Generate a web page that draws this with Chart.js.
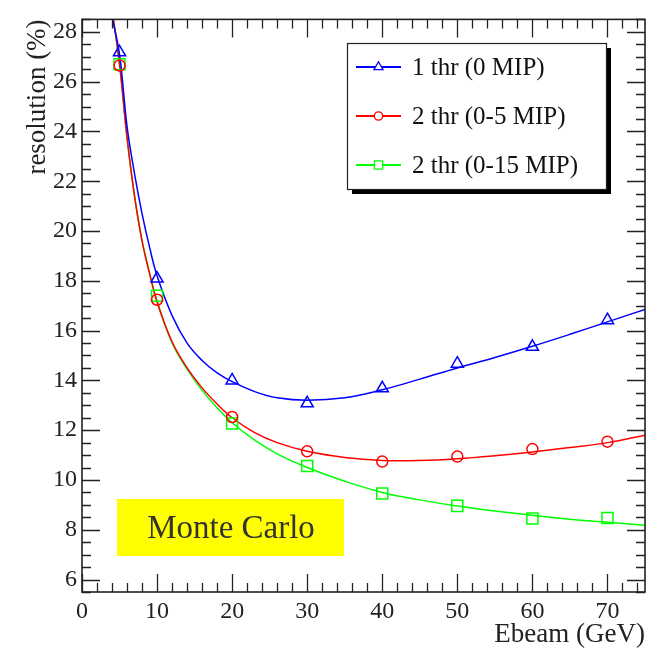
<!DOCTYPE html>
<html lang="en">
<head>
<meta charset="UTF-8">
<title>Resolution vs Ebeam</title>
<style>
  body { margin: 0; padding: 0; background: #fff; }
  #wrap { width: 664px; height: 648px; position: relative; }
</style>
</head>
<body>
<div id="wrap"><canvas id="resChart"></canvas></div>

<script src="https://cdn.jsdelivr.net/npm/chart.js"></script>
<script>
// measured points
const beamE = [5, 10, 20, 30, 40, 50, 60, 70];
const res1thr = [27.18, 18.09, 14.0, 13.08, 13.68, 14.67, 15.35, 16.42];
const res2thr5 = [26.65, 17.24, 12.53, 11.15, 10.74, 10.94, 11.24, 11.54];
const res2thr15 = [26.7, 17.4, 12.27, 10.56, 9.46, 8.96, 8.45, 8.47];

// fit curves
const fitE = [4, 5, 6, 7, 8, 9, 10, 12, 14, 16, 18, 20, 23, 26, 30, 35, 40, 45, 50, 55, 60, 65, 70, 75];
const fit1thr = [28.6, 27.1, 24.2, 22.3, 20.7, 19.35, 18.2, 16.6, 15.5, 14.8, 14.3, 13.95, 13.55, 13.3, 13.2, 13.3, 13.62, 14.05, 14.5, 14.92, 15.37, 15.85, 16.35, 16.85];
const fit2thr5 = [28.9, 26.7, 23.75, 21.4, 19.6, 18.3, 17.15, 15.55, 14.5, 13.7, 13.05, 12.5, 11.9, 11.5, 11.15, 10.9, 10.78, 10.78, 10.85, 10.97, 11.12, 11.3, 11.5, 11.8];
const fit2thr15 = [28.9, 26.7, 23.75, 21.4, 19.6, 18.3, 17.2, 15.5, 14.45, 13.6, 12.9, 12.3, 11.6, 11.05, 10.5, 9.95, 9.5, 9.2, 8.95, 8.75, 8.58, 8.42, 8.3, 8.18];

const seriesNames = ['1 thr (0 MIP)', '2 thr (0-5 MIP)', '2 thr (0-15 MIP)'];
const xTicks = [0, 10, 20, 30, 40, 50, 60, 70];
const yTicks = [6, 8, 10, 12, 14, 16, 18, 20, 22, 24, 26, 28];

const SERIF = '"Liberation Serif", "DejaVu Serif", serif';
const INK = '#222';

function pts(xs, ys) {
  return xs.map((x, i) => ({ x: x, y: ys[i] }));
}

function curve(ys, color) {
  return {
    data: pts(fitE, ys), showLine: true, borderColor: color, borderWidth: 1.5,
    pointRadius: 0, tension: 0.4, order: 1
  };
}

function markers(ys, color, style, r, label) {
  return {
    label: label, data: pts(beamE, ys), showLine: false, borderColor: color,
    backgroundColor: 'transparent', pointStyle: style, pointRadius: r,
    pointBorderWidth: 1.5, order: 0
  };
}

// ROOT style frame with inward ticks on all four sides
const frameTicks = {
  id: 'frameTicks',
  afterDatasetsDraw(chart) {
    const { ctx, chartArea: a, scales: { x, y } } = chart;
    ctx.save();
    ctx.strokeStyle = INK;
    ctx.lineWidth = 1.3;
    ctx.beginPath();
    for (let i = 0; i <= 37; i++) {
      const v = i * 2;
      const px = Math.round(x.getPixelForValue(v)) + 0.5;
      const len = xTicks.includes(v) ? 18 : 9;
      ctx.moveTo(px, a.bottom); ctx.lineTo(px, a.bottom - len);
      ctx.moveTo(px, a.top); ctx.lineTo(px, a.top + len);
    }
    const nY = Math.round((y.max - y.min) / 0.5);
    for (let i = 0; i <= nY; i++) {
      const v = y.min + i * 0.5;
      const py = Math.round(y.getPixelForValue(v)) + 0.5;
      const len = yTicks.includes(v) ? 18 : 9;
      ctx.moveTo(a.left, py); ctx.lineTo(a.left + len, py);
      ctx.moveTo(a.right, py); ctx.lineTo(a.right - len, py);
    }
    ctx.stroke();
    ctx.lineWidth = 1.6;
    ctx.strokeRect(a.left, a.top, a.right - a.left, a.bottom - a.top);
    ctx.restore();
  }
};

// legend box and "Monte Carlo" label
const boxes = {
  id: 'boxes',
  afterDraw(chart) {
    const ctx = chart.ctx;
    ctx.save();
    // Monte Carlo
    ctx.fillStyle = '#ffff00';
    ctx.fillRect(117, 499, 227, 57);
    ctx.fillStyle = '#333';
    ctx.font = '33px ' + SERIF;
    ctx.textAlign = 'center';
    ctx.textBaseline = 'middle';
    ctx.fillText('Monte Carlo', 231, 529);

    // legend
    const L = 347, T = 43, W = 259, H = 146;
    ctx.fillStyle = '#000';
    ctx.fillRect(L + 5, T + 5, W, H);
    ctx.fillStyle = '#fff';
    ctx.fillRect(L, T, W, H);
    ctx.strokeStyle = INK;
    ctx.lineWidth = 1.2;
    ctx.strokeRect(L + 0.5, T + 0.5, W, H);

    const marks = chart.data.datasets.filter(d => d.label);
    marks.forEach((d, i) => {
      const cy = T + 24 + i * 49;
      ctx.strokeStyle = d.borderColor;
      ctx.lineWidth = 2.2;
      ctx.beginPath();
      ctx.moveTo(356, cy); ctx.lineTo(401, cy);
      ctx.stroke();
      ctx.fillStyle = '#fff';
      ctx.lineWidth = 1.3;
      Chart.helpers.drawPoint(ctx, {
        pointStyle: d.pointStyle, radius: d.pointRadius * 0.75, borderWidth: 1.3
      }, 378.5, cy);
      ctx.fillStyle = '#111';
      ctx.font = '25px ' + SERIF;
      ctx.textAlign = 'left';
      ctx.textBaseline = 'middle';
      ctx.fillText(d.label, 412, cy + 1);
    });
    ctx.restore();
  }
};

const tickFont = { family: SERIF, size: 24 };
const titleFont = { family: SERIF, size: 27 };

new Chart(document.getElementById('resChart'), {
  type: 'scatter',
  data: {
    datasets: [
      curve(fit1thr, '#0000ff'),
      curve(fit2thr5, '#ff0000'),
      curve(fit2thr15, '#00ff00'),
      markers(res1thr, '#0000ff', 'triangle', 7, seriesNames[0]),
      markers(res2thr5, '#ff0000', 'circle', 5.5, seriesNames[1]),
      markers(res2thr15, '#00ff00', 'rect', 7.8, seriesNames[2])
    ]
  },
  options: {
    responsive: true,
    maintainAspectRatio: false,
    animation: false,
    layout: { padding: { top: 10, right: 19, left: 0, bottom: 0 } },
    plugins: { legend: { display: false }, tooltip: { enabled: false } },
    scales: {
      x: {
        type: 'linear', min: 0, max: 75,
        grid: { display: false, drawTicks: false }, border: { display: false },
        afterBuildTicks: s => { s.ticks = xTicks.map(v => ({ value: v })); },
        afterFit: s => { s.height = 56; },
        ticks: { color: INK, font: tickFont, padding: 5, maxRotation: 0, autoSkip: false },
        title: { display: true, text: 'Ebeam (GeV)', align: 'end', color: INK, font: titleFont, padding: { top: 0, bottom: -3 } }
      },
      y: {
        type: 'linear', min: 5.5, max: 28.5,
        grid: { display: false, drawTicks: false }, border: { display: false },
        afterBuildTicks: s => { s.ticks = yTicks.map(v => ({ value: v })); },
        afterFit: s => { s.width = 82; },
        ticks: { color: INK, font: tickFont, padding: 5, autoSkip: false },
        title: { display: true, text: 'resolution (%)', align: 'end', color: INK, font: titleFont, padding: { top: 22, bottom: 0 } }
      }
    }
  },
  plugins: [frameTicks, boxes]
});
</script>
</body>
</html>
